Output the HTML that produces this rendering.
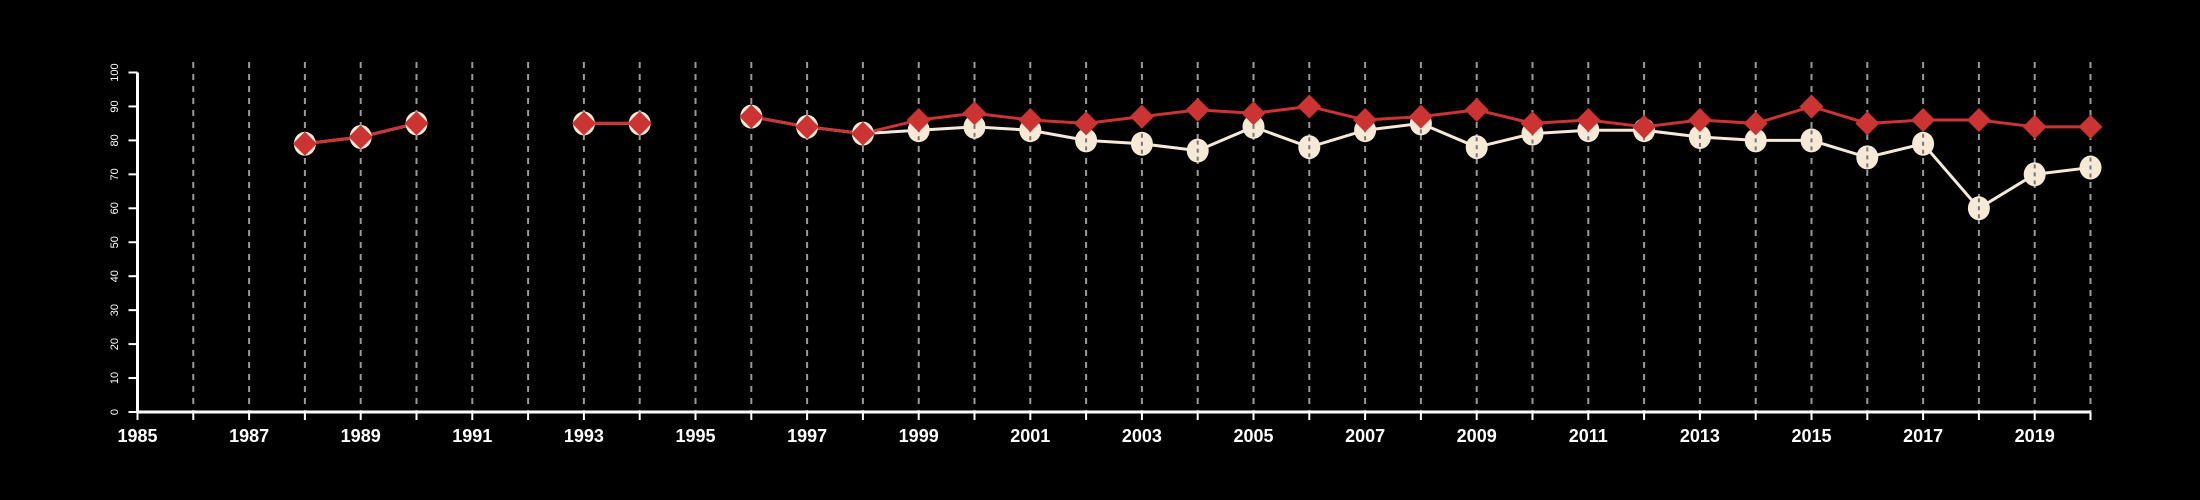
<!DOCTYPE html>
<html><head><meta charset="utf-8"><style>
html,body{margin:0;padding:0;background:#000;}
svg{display:block;font-family:"Liberation Sans",Arial,sans-serif;}
</style></head><body>
<svg id="chart" width="2200" height="500" viewBox="0 0 2200 500" xmlns="http://www.w3.org/2000/svg">
<rect width="2200" height="500" fill="#000"/>
<g id="grid"></g><g id="axes"></g><g id="series"></g>
</svg>
<script>
const years = [1988,1989,1990,1993,1994,1996,1997,1998,1999,2000,2001,2002,2003,2004,2005,2006,2007,2008,2009,2010,2011,2012,2013,2014,2015,2016,2017,2018,2019,2020];
const redValues = [79,81,85,85,85,87,84,82,86,88,86,85,87,89,88,90,86,87,89,85,86,84,86,85,90,85,86,86,84,84];
const creamValues = [79,81,85,85,85,87,84,82,83,84,83,80,79,77,84,78,83,85,78,82,83,83,81,80,80,75,79,60,70,72];
const yTicks = [0,10,20,30,40,50,60,70,80,90,100];
const xLabelYears = [1985,1987,1989,1991,1993,1995,1997,1999,2001,2003,2005,2007,2009,2011,2013,2015,2017,2019];

const NS="http://www.w3.org/2000/svg";
const X0=137.5, PX=55.8, Y0=412, PY=3.395;
const xs=y=>X0+(y-1985)*PX;
const ys=v=>Y0-v*PY;
function mk(tag,attrs,parent){const e=document.createElementNS(NS,tag);for(const k in attrs)e.setAttribute(k,attrs[k]);parent.appendChild(e);return e;}
const grid=document.getElementById('grid'),axes=document.getElementById('axes'),ser=document.getElementById('series');

for(let yr=1986;yr<=2020;yr++){
  const l=mk('line',{x1:xs(yr),x2:xs(yr),y1:62,y2:Y0,stroke:'#9a9a9a','stroke-width':2,'stroke-dasharray':'6,6'},grid);
  
  
}
const xa=mk('line',{x1:xs(1985),x2:xs(2020),y1:Y0,y2:Y0,stroke:'#fff','stroke-width':3},axes);


for(let yr=1985;yr<=2020;yr++){
  const t=mk('line',{x1:xs(yr),x2:xs(yr),y1:Y0,y2:Y0+8,stroke:'#fff','stroke-width':2},axes);
  
  
}
xLabelYears.forEach(yr=>{
  const t=mk('text',{x:xs(yr),y:Y0+30,fill:'#fff','font-size':18,'font-weight':'bold','text-anchor':'middle'},axes);
  t.textContent=yr;
  
  
});
const ya=mk('line',{x1:X0,x2:X0,y1:ys(100),y2:Y0,stroke:'#fff','stroke-width':3},axes);


yTicks.forEach(v=>{
  const t=mk('line',{x1:X0-9,x2:X0,y1:ys(v),y2:ys(v),stroke:'#fff','stroke-width':2},axes);
  
  
  const lx=118,ly=ys(v);
  const tx=mk('text',{x:lx,y:ly,fill:'#fff','font-size':11,'text-anchor':'middle',transform:`rotate(-90 ${lx} ${ly})`},axes);
  tx.textContent=v;
  
  
});

function segments(){const segs=[];let cur=[];years.forEach((y,i)=>{if(i>0&&y-years[i-1]>1){segs.push(cur);cur=[];}cur.push(i);});segs.push(cur);return segs;}
function drawLine(vals,color,name){
  segments().forEach((s,k)=>{
    const p=mk('polyline',{points:s.map(i=>xs(years[i])+','+ys(vals[i])).join(' '),fill:'none',stroke:color,'stroke-width':3},ser);
    
    
  });
}
drawLine(creamValues,'#f6e9d6','cream-series');
drawLine(redValues,'#cc3333','red-series');
years.forEach((y,i)=>{
  const c=mk('ellipse',{cx:xs(y),cy:ys(creamValues[i]),rx:11,ry:12,fill:'#f6e9d6'},ser);
  
  
  const d=mk('line',{x1:xs(y),x2:xs(y),y1:ys(creamValues[i])-10,y2:ys(creamValues[i])+10,stroke:'#777','stroke-width':2,'stroke-dasharray':'4,4'},ser);
  
  
});
years.forEach((y,i)=>{
  const cx=xs(y),cy=ys(redValues[i]),r=12;
  const d=mk('polygon',{points:`${cx},${cy-r} ${cx+r},${cy} ${cx},${cy+r} ${cx-r},${cy}`,fill:'#cc3333'},ser);
  
  
});
</script>
</body></html>
